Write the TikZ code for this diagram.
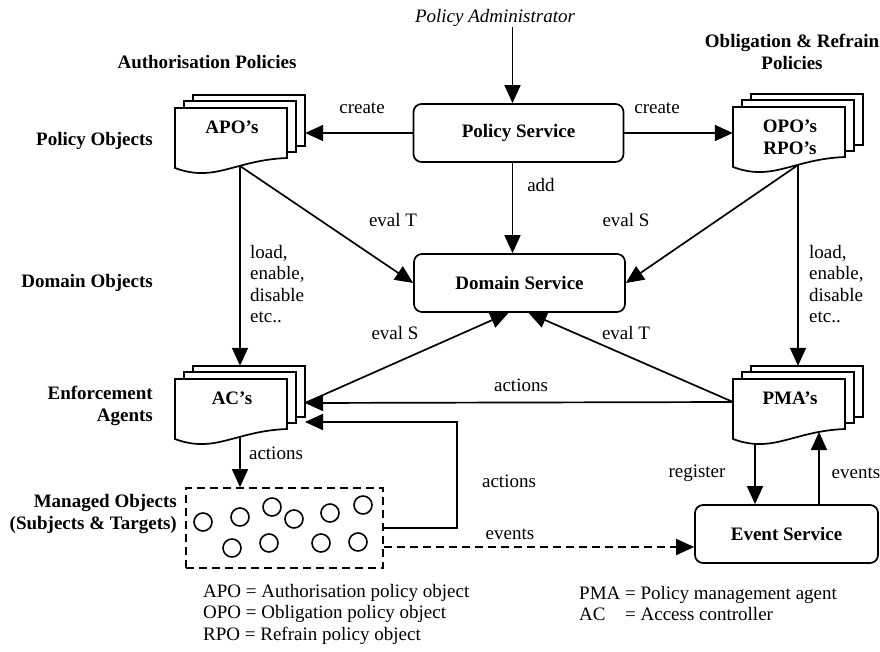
\documentclass[tikz,border=0pt]{standalone}
\usepackage{fontspec}
\setmainfont{Liberation Serif}
\usetikzlibrary{arrows.meta,positioning}
\newcommand{\dfont}{\fontsize{19}{21.5}\selectfont}
\tikzset{
  svc/.style={rectangle,rounded corners=8pt,draw=black,line width=1.7pt,font=\dfont\bfseries,minimum width=210pt,minimum height=58pt,inner sep=0pt},
  sheet/.style={draw=black,fill=white,line width=1.7pt},
  doctx/.style={anchor=north,font=\dfont\bfseries,align=center,inner sep=0pt},
  docbx/.style={rectangle,minimum width=130pt,minimum height=62pt,inner sep=0pt},
  arr/.style={-{Triangle[length=18pt,width=16pt]},line width=1.7pt},
  dsh/.style={dash pattern=on 8pt off 5pt},
  lb/.style={font=\dfont,inner sep=0pt},
  tb/.style={font=\dfont\bfseries,inner sep=0pt},
  mob/.style={circle,draw=black,line width=1.6pt,minimum size=18pt,inner sep=0pt},
  mbox/.style={rectangle,draw=black,line width=1.7pt,dsh,minimum width=197pt,minimum height=80pt,inner sep=0pt},
}
% a stack of three policy sheets; front sheet's top left corner at (#2,#3)
\newcommand{\polstack}[4]{%
  \begin{scope}[shift={(#2,#3)}]
    \draw[sheet] (18,-13) rectangle (130,38);
    \draw[sheet] (9,-7) rectangle (121,44);
    \draw[sheet] (0,0) -- (112,0) -- (112,50) .. controls (60,52) and (40,75) .. (0,60) -- cycle;
    \node[doctx] (#1-t) at (57,13) {#4};
    \node[docbx] (#1) at (65,18) {};
    \coordinate (#1-a) at (22,65);
    \coordinate (#1-b) at (65,58);
    \coordinate (#1-c) at (86,53);
    \coordinate (#1-r) at (130,24);
    \coordinate (#1-l) at (0,23);
  \end{scope}}
\begin{document}
\begin{tikzpicture}[x=1pt,y=-1pt]
\useasboundingbox (0,0) rectangle (880,652);
% --- services
\node[svc] (psvc) at (518.5,133) {Policy Service};
\node[svc,minimum width=211pt] (dsvc) at (519.5,283) {Domain Service};
\node[svc,minimum width=183pt] (esvc) at (786.5,534) {Event Service};
% --- policy objects and agents
\polstack{apo}{175}{108}{APO's}
\polstack{opo}{733}{107}{OPO's\\RPO's}
\polstack{ac}{175}{379}{AC's}
\polstack{pma}{733}{379}{PMA's}
% --- managed objects
\node[mbox] (mobox) at (284.5,528) {};
\foreach \i/\cx/\cy in {1/203/522,2/240/517,3/272/507,4/294/519,5/330/513,
                        6/363/505,7/232/548,8/269/543,9/321/543,10/358/542}{
  \node[mob] (mo\i) at (\cx,\cy) {};
}
% --- row titles
\node[lb,font=\dfont\itshape] (admin) at (495,18) {Policy Administrator};
\node[tb] (authp) at (207,62) {Authorisation Policies};
\node[tb,align=center] (oblp) at (792,52) {Obligation \& Refrain\\Policies};
\node[tb,anchor=east] (polo) at (153,141) {Policy Objects};
\node[tb,anchor=east] (domo) at (153,283) {Domain Objects};
\node[tb,anchor=east,align=right] (enfa) at (153,406) {Enforcement\\Agents};
\node[tb,anchor=east,align=right] (mano) at (177,514) {Managed Objects\\(Subjects \& Targets)};
% --- connector labels
\node[lb] (crl) at (362,108) {create};
\node[lb] (crr) at (657,108) {create};
\node[lb] (addl) at (541,185) {add};
\node[lb] (evt1) at (393,220) {eval T};
\node[lb] (evs1) at (626,220) {eval S};
\node[lb] (evs2) at (395,333) {eval S};
\node[lb] (evt2) at (626,333) {eval T};
\node[lb,align=left,anchor=north west] (ldl) at (250,245) {load,\\enable,\\disable\\etc..};
\node[lb,align=left,anchor=north west] (ldr) at (809,245) {load,\\enable,\\disable\\etc..};
\node[lb] (act1) at (521,385) {actions};
\node[lb] (act2) at (276,453) {actions};
\node[lb] (act3) at (509,481) {actions};
\node[lb] (evd) at (510,534) {events};
\node[lb] (reg) at (697,473) {register};
\node[lb] (evu) at (856,473) {events};
% --- legend
\node[lb,align=left,anchor=north west] (lgl) at (203,584)
  {APO = Authorisation policy object\\OPO = Obligation policy object\\RPO = Refrain policy object};
\node[lb,anchor=north west] (lgr) at (579,584)
  {\begin{tabular}{@{}l@{ }l@{}}PMA&= Policy management agent\\AC&= Access controller\end{tabular}};
% --- connectors
\coordinate (pin) at ([xshift=-6pt]psvc.north);
\coordinate (lp) at (457,422);
\draw[arr] (admin.south -| pin) -- (pin);
\draw[arr] (psvc.west) -- (psvc.west -| apo.east);
\draw[arr] (psvc.east) -- (psvc.east -| opo.west);
\draw[arr] (pin |- psvc.south) -- (pin |- dsvc.north);
\draw[arr] (apo-b) -- (dsvc.west);
\draw[arr] (opo-b) -- (dsvc.east);
\draw[arr] (apo-b) -- (apo-b |- ac.north);
\draw[arr] (opo-b) -- (opo-b |- pma.north);
\draw[arr] (ac-r) -- ([xshift=-11pt]dsvc.south);
\draw[arr] (pma-l) -- ([xshift=9pt]dsvc.south);
\draw[arr] (pma-l) -- (ac-r);
\draw[arr] (ac-b) -- (ac-b |- mobox.north);
\draw[arr] (mobox.east) -| (lp) -- (lp -| ac-r);
\draw[arr,dsh] ([yshift=-19pt]mobox.east) -- ([yshift=-19pt]mobox.east -| esvc.west);
\draw[arr] (pma-a) -- (pma-a |- esvc.north);
\draw[arr] (pma-c |- esvc.north) -- (pma-c);
\end{tikzpicture}
\end{document}
